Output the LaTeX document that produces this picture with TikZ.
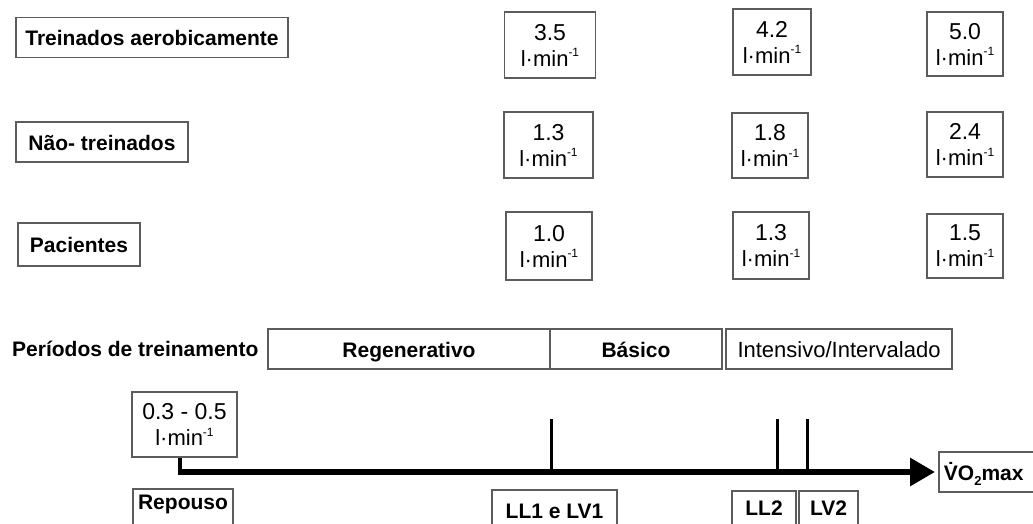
\documentclass[tikz,border=0pt]{standalone}
\usepackage{fontspec}
\setmainfont{Liberation Sans}
\usetikzlibrary{arrows.meta}
\definecolor{boxgray}{gray}{0.36}
\newcommand{\unitl}{{\fontsize{22}{26}\selectfont l·min\raisebox{0.42em}{\fontsize{12}{12}\selectfont -1}}}
\begin{document}
\begin{tikzpicture}[x=1pt,y=-1pt,
  box/.style={draw=boxgray,line width=1.9pt,inner sep=0pt},
  lbl/.style={box,text height=16pt,text depth=0pt,font=\fontsize{21}{24}\selectfont\bfseries},
  plain/.style={box,text height=16pt,text depth=0pt,font=\fontsize{22}{24}\selectfont},
  numbox/.style={box,align=center,font=\fontsize{23}{26}\selectfont},
  bottombox/.style={box,anchor=north,inner xsep=0pt,inner ysep=5pt,text depth=30pt,font=\fontsize{21}{24}\selectfont\bfseries},
  axisline/.style={line width=6pt},
  tickline/.style={line width=3pt}]
\useasboundingbox (0,0) rectangle (1033,524);
\fill[white] (0,0) rectangle (1033,524);
\clip (0,0) rectangle (1033,524);

% group labels
\node[lbl,minimum width=272,minimum height=40] (ta) at (152,37.5) {Treinados aerobicamente};
\node[lbl,minimum width=172,minimum height=40] (nt) at (102,142) {Não- treinados};
\node[lbl,minimum width=122,minimum height=43] (pac) at (79,244.5) {Pacientes};

% value boxes
\node[numbox,minimum width=91,minimum height=66] (a1) at (550,45) {3.5\\\unitl};
\node[numbox,minimum width=78,minimum height=66] (a2) at (772,42) {4.2\\\unitl};
\node[numbox,minimum width=76,minimum height=64] (a3) at (965,44) {5.0\\\unitl};
\node[numbox,minimum width=89,minimum height=66] (b1) at (548.5,145) {1.3\\\unitl};
\node[numbox,minimum width=76,minimum height=65] (b2) at (770,145.5) {1.8\\\unitl};
\node[numbox,minimum width=76,minimum height=65] (b3) at (965,144.5) {2.4\\\unitl};
\node[numbox,minimum width=86,minimum height=68] (c1) at (549,246) {1.0\\\unitl};
\node[numbox,minimum width=76,minimum height=67] (c2) at (771,245.5) {1.3\\\unitl};
\node[numbox,minimum width=76,minimum height=64] (c3) at (965,246) {1.5\\\unitl};

% training periods
\node[anchor=west,inner sep=0pt,text height=16pt,text depth=0pt,font=\fontsize{21}{24}\selectfont\bfseries] (per) at (12,348) {Períodos de treinamento};
\node[lbl,minimum width=282,minimum height=40] (reg) at (409,349) {Regenerativo};
\node[lbl,minimum width=172,minimum height=40] (bas) at (636,349) {Básico};
\node[plain,minimum width=226,minimum height=40] (int) at (839,349) {Intensivo/Intervalado};

% axis
\node[numbox,minimum width=105,minimum height=65] (rest) at (184.5,424.5) {{\fontsize{23}{26}\selectfont 0.3 - 0.5}\\\unitl};
\node[box,anchor=west,minimum height=40,text width=100pt,inner xsep=5pt,align=left,text height=16pt,text depth=0pt,font=\fontsize{21}{24}\selectfont\bfseries] (vo2) at (938,472) {V̇O\raisebox{-0.28em}{\fontsize{13}{13}\selectfont 2}max};
\coordinate (ax) at (180,472);
\draw[line width=4pt] (rest.south -| ax) -- ([yshift=2]ax);
\draw[axisline,-{Triangle[length=25pt,width=27pt]},shorten >=3pt] ([xshift=-2]ax) -- (vo2.west);

\coordinate (t1) at (551,419);
\coordinate (t2) at (777,419);
\coordinate (t3) at (807,419);
\draw[tickline] (t1) -- (t1 |- ax);
\draw[tickline] (t2) -- (t2 |- ax);
\draw[tickline] (t3) -- (t3 |- ax);

% threshold labels
\node[bottombox,minimum width=100,text height=16pt] (rep) at (183,488) {Repouso};
\node[bottombox,minimum width=125,text height=24pt] (ll1) at (554.5,489) {LL1 e LV1};
\node[bottombox,minimum width=64,text height=20pt] (ll2) at (764,490) {LL2};
\node[bottombox,minimum width=59,text height=20pt] (lv2) at (828.5,490) {LV2};
\end{tikzpicture}
\end{document}
